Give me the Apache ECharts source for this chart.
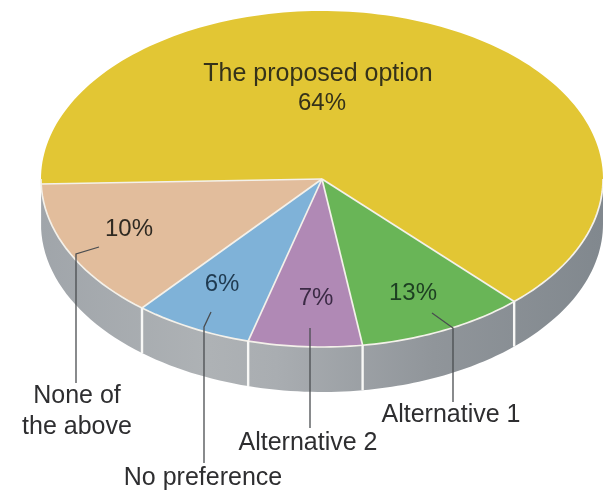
<!DOCTYPE html>
<html>
<head>
<meta charset="utf-8">
<style>html,body{margin:0;padding:0;background:#fff;overflow:hidden}#c{width:603px;height:490px}</style>
<script src="https://cdn.jsdelivr.net/npm/echarts@6/dist/echarts.min.js"></script>
</head>
<body>
<div id="c"></div>
<script>
// ---- data ----
const categories = ['The proposed option', 'Alternative 1', 'Alternative 2', 'No preference', 'None of the above'];
const shares = [64, 13, 7, 6, 10];

// ---- styles and layout (separate from the data) ----
const topColors = ['#e2c634', '#69b557', '#b089b5', '#7fb2d8', '#e2bd9c'];
const FONT = '"Liberation Sans", Arial, sans-serif';
const HUB = [322, 179], RX = 281, RY = 168, DEPTH = 45, START = 178.3;
const percentPos = [[322, 103], [413, 293], [316, 298], [222, 284], [129, 229]];
const percentColor = ['#35321a', '#1d3f22', '#3b2a45', '#1f3a50', '#2f2a22'];
const namePos = [[318, 74], [451, 415], [308, 443], [203, 478], [77, 412]];
const leaders = [
  null,
  [[432, 313], [453, 328], [453, 402]],
  [[310, 328], [310, 428]],
  [[211, 312], [204, 327], [204, 463]],
  [[99, 247], [76, 254], [76, 383]]
];

// Lower-front foreshortening of the drawing: the front rim is stretched a little.
function warp(deg) {
  const n = ((deg % 360) + 360) % 360;
  const c = 118, half = n < c ? 75 : 60;
  const d = Math.abs(n - c);
  return d < half ? n - 15.5 * Math.cos(d / half * Math.PI / 2) : n;
}
function rim(deg, dy) {
  const t = warp(deg) * Math.PI / 180;
  return [HUB[0] + RX * Math.cos(t), HUB[1] + RY * Math.sin(t) + (dy || 0)];
}
function samples(a, b) {
  const out = [];
  const n = Math.max(2, Math.ceil((b - a) / 1.5));
  for (let i = 0; i <= n; i++) out.push(a + (b - a) * i / n);
  return out;
}
const total = shares.reduce((s, v) => s + v, 0);
const wallFill = new echarts.graphic.LinearGradient(40, 0, 603, 0, [
  { offset: 0, color: '#a0a5aa' },
  { offset: 0.3, color: '#aeb2b5' },
  { offset: 0.42, color: '#a9adb1' },
  { offset: 0.7, color: '#90959a' },
  { offset: 1, color: '#81888e' }
], true);

function renderItem(params, api) {
  const i = params.dataIndex;
  let before = 0;
  for (let k = 0; k < i; k++) before += shares[k];
  const a0 = START + before / total * 360;
  const a1 = a0 + api.value(1) / total * 360;
  const kids = [];
  // front wall: only the part of the rim facing the viewer
  const front = [];
  for (const off of [0, 360]) {
    const lo = Math.max(a0, off), hi = Math.min(a1, off + 180);
    if (hi > lo) front.push([lo, hi]);
  }
  const lineStyle = { stroke: '#f4f1ea', lineWidth: 1.7, fill: null };
  front.forEach(([lo, hi]) => {
    const s = samples(lo, hi);
    kids.push({
      type: 'polygon', z2: 1,
      shape: { points: s.map(d => rim(d)).concat(s.slice().reverse().map(d => rim(d, DEPTH))) },
      style: { fill: wallFill }
    });
  });
  // top face
  kids.push({
    type: 'polygon', z2: 2,
    shape: { points: [HUB].concat(samples(a0, a1).map(d => rim(d))) },
    style: { fill: topColors[i] }
  });
  // rim highlight, spoke and wall divider
  front.forEach(([lo, hi]) => {
    kids.push({ type: 'polyline', z2: 3, shape: { points: samples(lo, hi).map(d => rim(d)) }, style: lineStyle });
  });
  kids.push({ type: 'polyline', z2: 3, shape: { points: [HUB, rim(a0)] }, style: lineStyle });
  const bottomStart = ((a0 % 360) + 360) % 360;
  if (bottomStart < 170) {
    kids.push({ type: 'polyline', z2: 3, shape: { points: [rim(a0), rim(a0, DEPTH)] },
      style: { stroke: '#f8f8f6', lineWidth: 2.4, fill: null } });
  }
  // leader line
  if (leaders[i]) {
    kids.push({ type: 'polyline', z2: 4, shape: { points: leaders[i] },
      style: { stroke: '#4a4d50', lineWidth: 1.3, fill: null } });
  }
  // labels
  kids.push({ type: 'text', z2: 5, style: {
    x: percentPos[i][0], y: percentPos[i][1], text: api.value(1) + '%',
    font: '24px ' + FONT, fill: percentColor[i], align: 'center', verticalAlign: 'middle' } });
  const name = categories[i] === 'None of the above' ? 'None of\nthe above' : categories[i];
  kids.push({ type: 'text', z2: 5, style: {
    x: namePos[i][0], y: namePos[i][1], text: name, lineHeight: 31,
    font: '25px ' + FONT, fill: i === 0 ? '#35321a' : '#2e2e30', align: 'center', verticalAlign: 'middle' } });
  return { type: 'group', children: kids };
}

const chart = echarts.init(document.getElementById('c'), null, { renderer: 'canvas' });
chart.setOption({
  animation: false,
  backgroundColor: '#fff',
  series: [{
    type: 'custom',
    coordinateSystem: 'none',
    renderItem,
    clip: false,
    data: categories.map((c, i) => ({ name: c, value: [i, shares[i]] }))
  }]
});
</script>
</body>
</html>
